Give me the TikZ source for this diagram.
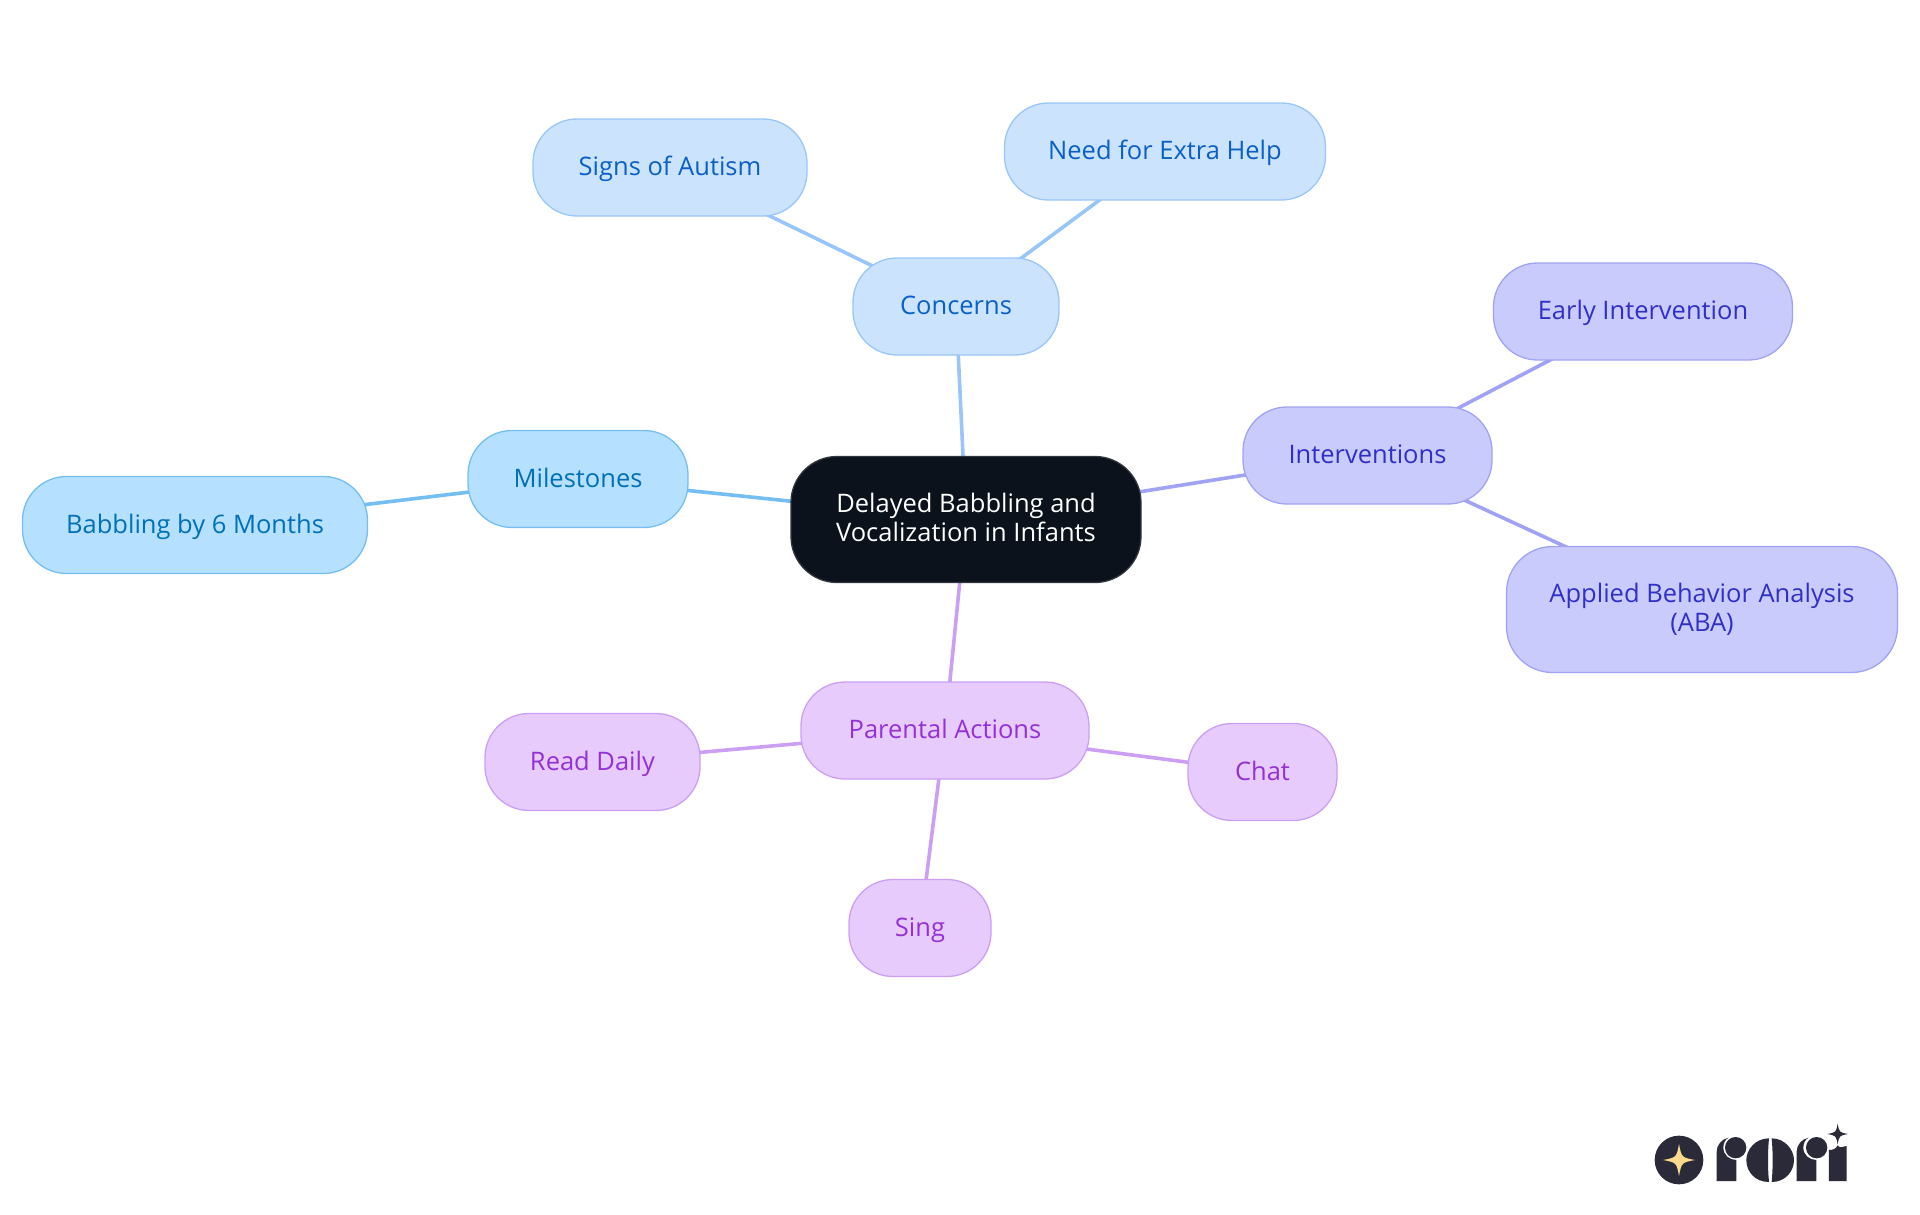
\documentclass[tikz,border=0pt]{standalone}
\usepackage{fontspec}
\setmainfont{Open Sans}
\usetikzlibrary{backgrounds}
\definecolor{rootfill}{HTML}{0B121B}
\definecolor{rootline}{HTML}{32373E}
\definecolor{concfill}{HTML}{CCE3FD}
\definecolor{concline}{HTML}{99C6F8}
\definecolor{conctext}{HTML}{0A5FC8}
\definecolor{milefill}{HTML}{B5E0FF}
\definecolor{mileline}{HTML}{74BEF2}
\definecolor{miletext}{HTML}{0070B8}
\definecolor{intefill}{HTML}{C9CBFD}
\definecolor{inteline}{HTML}{A0A3F3}
\definecolor{intetext}{HTML}{3030C8}
\definecolor{parefill}{HTML}{E7CBFD}
\definecolor{pareline}{HTML}{CB9FF3}
\definecolor{paretext}{HTML}{9430D8}
\definecolor{logodark}{HTML}{2A2A38}
\definecolor{logogold}{HTML}{FCD98C}
\newcommand{\sparkle}[3]{\fill[#3,shift={#1},scale=#2] (1,0) .. controls (.16,.16) .. (0,1) .. controls (-.16,.16) .. (-1,0) .. controls (-.16,-.16) .. (0,-1) .. controls (.16,-.16) .. cycle;}
\begin{document}
\begin{tikzpicture}[x=1pt, y=-1pt,
  every node/.style={align=center, inner sep=0pt, rounded corners=44pt, line width=1.3pt, font=\fontsize{25.5}{29}\selectfont, text height=20pt, text depth=4pt, minimum height=97pt},
  twolines/.style={text height=47.5pt, text depth=4.3pt, minimum height=126pt, rounded corners=46pt},
  rootbox/.style={twolines, draw=rootline, fill=rootfill, text=white},
  concbox/.style={draw=concline, fill=concfill, text=conctext},
  milebox/.style={draw=mileline, fill=milefill, text=miletext},
  intebox/.style={draw=inteline, fill=intefill, text=intetext},
  parebox/.style={draw=pareline, fill=parefill, text=paretext},
  link/.style={line width=3.6pt}]
  \useasboundingbox (0,0) rectangle (1920,1215);
  \node[rootbox, minimum width=350pt] (root) at (966,519.5) {Delayed Babbling and\\Vocalization in Infants};
  \node[concbox, minimum width=206pt] (concerns) at (956,306.5) {Concerns};
  \node[concbox, minimum width=274pt] (autism) at (670,167.5) {Signs of Autism};
  \node[concbox, minimum width=321pt] (help) at (1165,151.5) {Need for Extra Help};
  \node[milebox, minimum width=220pt] (milestones) at (578,479) {Milestones};
  \node[milebox, minimum width=345pt] (babbling) at (195,525) {Babbling by 6 Months};
  \node[intebox, minimum width=249pt] (interventions) at (1367.5,455.5) {Interventions};
  \node[intebox, minimum width=299pt] (early) at (1643,311.5) {Early Intervention};
  \node[intebox, twolines, minimum width=391pt] (aba) at (1702,609.5) {Applied Behavior Analysis\\(ABA)};
  \node[parebox, minimum width=288pt] (parental) at (945,730.5) {Parental Actions};
  \node[parebox, minimum width=215pt] (read) at (592.5,762) {Read Daily};
  \node[parebox, minimum width=149pt] (chat) at (1262.5,772) {Chat};
  \node[parebox, minimum width=142pt] (sing) at (920,928) {Sing};
  \begin{scope}[on background layer]
    \draw[link, concline] (root.center) -- (concerns.center);
    \draw[link, concline] (concerns.center) -- (autism.center);
    \draw[link, concline] (concerns.center) -- (help.center);
    \draw[link, mileline] (root.center) -- (milestones.center);
    \draw[link, mileline] (milestones.center) -- (babbling.center);
    \draw[link, inteline] (root.center) -- (interventions.center);
    \draw[link, inteline] (interventions.center) -- (early.center);
    \draw[link, inteline] (interventions.center) -- (aba.center);
    \draw[link, pareline] (root.center) -- (parental.center);
    \draw[link, pareline] (parental.center) -- (read.center);
    \draw[link, pareline] (parental.center) -- (chat.center);
    \draw[link, pareline] (parental.center) -- (sing.center);
  \end{scope}
  % logo
  \begin{scope}[shift={(1620pt,-1100pt)}, x=.3333pt, y=-.3333pt]
    \fill[logodark] (177,180) circle (73);
    \sparkle{(177,180)}{48}{logogold}
    \foreach \sx/\bx in {290/347,530/590} {
      \fill[logodark, shift={(\sx,0)}] (0,243) -- (0,155) .. controls (0,135) and (15,117) .. (36,113) .. controls (25,118) and (20,131) .. (20,143) .. controls (20,165) and (38,180) .. (59,180) -- (59,243) -- cycle;
      \fill[logodark] (\bx,143) circle (32);
    }
    \fill[logodark] (447,115) .. controls (405,115) and (379,150) .. (379,180) .. controls (379,215) and (405,246) .. (447,246) .. controls (443,205) and (443,155) .. (447,115) -- cycle;
    \fill[logodark] (455,115) .. controls (495,115) and (522,150) .. (522,180) .. controls (522,215) and (495,246) .. (455,246) .. controls (459,205) and (459,155) .. (455,115) -- cycle;
    \fill[logodark] (627,243) -- (627,150) .. controls (640,150) and (648,146) .. (653,136) .. controls (658,146) and (668,140) .. (680,138) -- (680,243) -- cycle;
    \sparkle{(653,102)}{31}{logodark}
  \end{scope}
\end{tikzpicture}
\end{document}
